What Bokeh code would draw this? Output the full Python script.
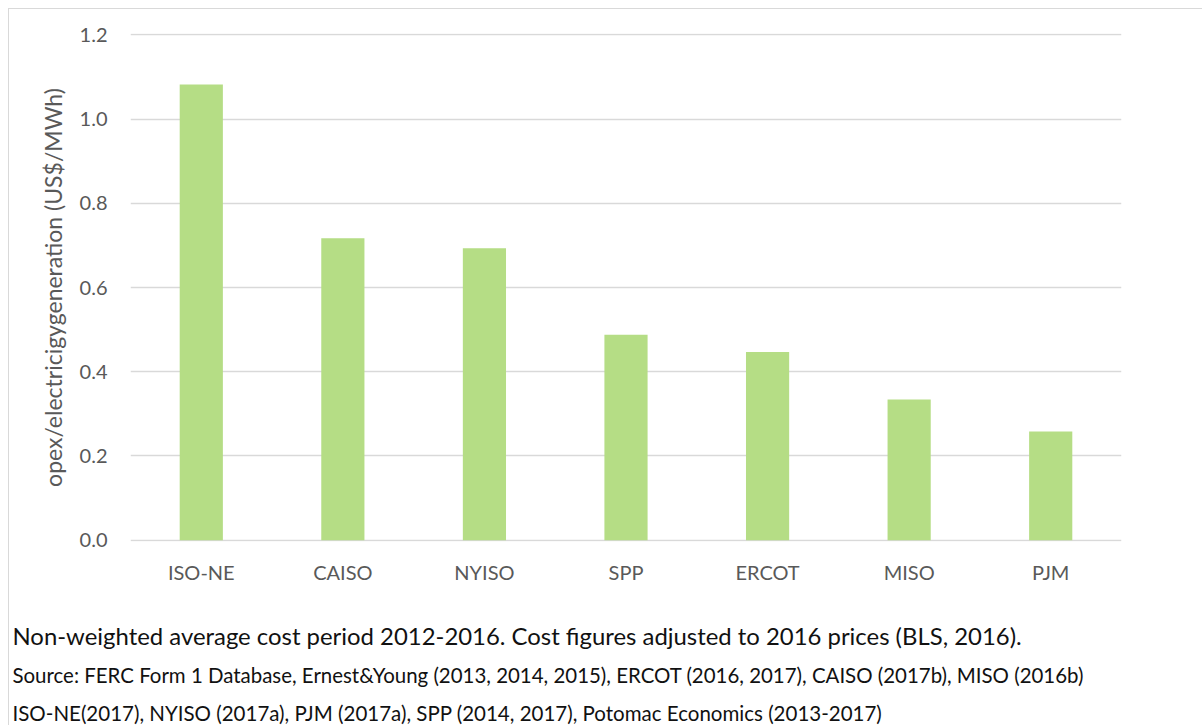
from bokeh.plotting import figure
from bokeh.models import Range1d, FactorRange, Title, FixedTicker, NumeralTickFormatter
from bokeh.embed import file_html
from bokeh.resources import INLINE

regions = ["ISO-NE", "CAISO", "NYISO", "SPP", "ERCOT", "MISO", "PJM"]
opex = [1.082, 0.717, 0.693, 0.488, 0.447, 0.334, 0.258]
y_ticks = [0.0, 0.2, 0.4, 0.6, 0.8, 1.0, 1.2]
y_label = "opex/electricigygeneration (US$/MWh)"
notes = [
    "Non-weighted average cost period 2012-2016. Cost figures adjusted to 2016 prices (BLS, 2016).",
    "Source: FERC Form 1 Database, Ernest&Young (2013, 2014, 2015), ERCOT (2016, 2017), CAISO (2017b), MISO (2016b)",
    "ISO-NE(2017), NYISO (2017a), PJM (2017a), SPP (2014, 2017), Potomac Economics (2013-2017)",
]

FONT = "Lato"
W = 1194
H = 717

p = figure(
    x_range=FactorRange(*regions, range_padding=0),
    y_range=Range1d(-0.003, 1.203),
    width=W, height=H,
    output_backend="svg", toolbar_location=None,
    min_border_left=121, min_border_right=82, min_border_top=24, min_border_bottom=184,
    styles={"margin-left": "8px", "margin-top": "8px",
            "border-left": "1px solid #d9d9d9", "border-top": "1px solid #d9d9d9"},
)
p.vbar(x=regions, top=opex, bottom=0, width=0.305, fill_color="#b5dd85", line_color=None)

p.outline_line_color = None
p.xgrid.grid_line_color = None
p.ygrid.grid_line_color = "#d9d9d9"
p.ygrid.grid_line_width = 1.5

p.yaxis.ticker = FixedTicker(ticks=y_ticks)
p.yaxis.formatter = NumeralTickFormatter(format="0.0")
for ax in (p.xaxis[0], p.yaxis[0]):
    ax.axis_line_color = None
    ax.major_tick_line_color = None
    ax.minor_tick_line_color = None
    ax.major_tick_out = 0
    ax.major_tick_in = 0
    ax.minor_tick_out = 0
    ax.major_label_text_font = FONT
    ax.major_label_text_font_size = "20px"
    ax.major_label_text_color = "#595959"

p.yaxis.major_label_standoff = 23
p.xaxis.major_label_standoff = 18
p.yaxis.axis_label = y_label
p.yaxis.axis_label_text_font = FONT
p.yaxis.axis_label_text_font_size = "23px"
p.yaxis.axis_label_text_font_style = "normal"
p.yaxis.axis_label_text_color = "#595959"
p.yaxis.axis_label_standoff = 10

# spacer between category labels and the footnotes
p.add_layout(Title(text=" ", text_font_size="10px", standoff=20), "below")
sizes = ["23.9px", "20.45px", "20.5px"]
standoffs = [0, 21.6, 2.0]
for t, s, so in zip(notes, sizes, standoffs):
    p.add_layout(Title(text=t, align="left", offset=-118, standoff=so, vertical_align="middle",
                       text_font=FONT, text_font_size=s, text_font_style="normal",
                       text_color="#111111"), "below")

open("out.html", "w").write(file_html(p, INLINE))
